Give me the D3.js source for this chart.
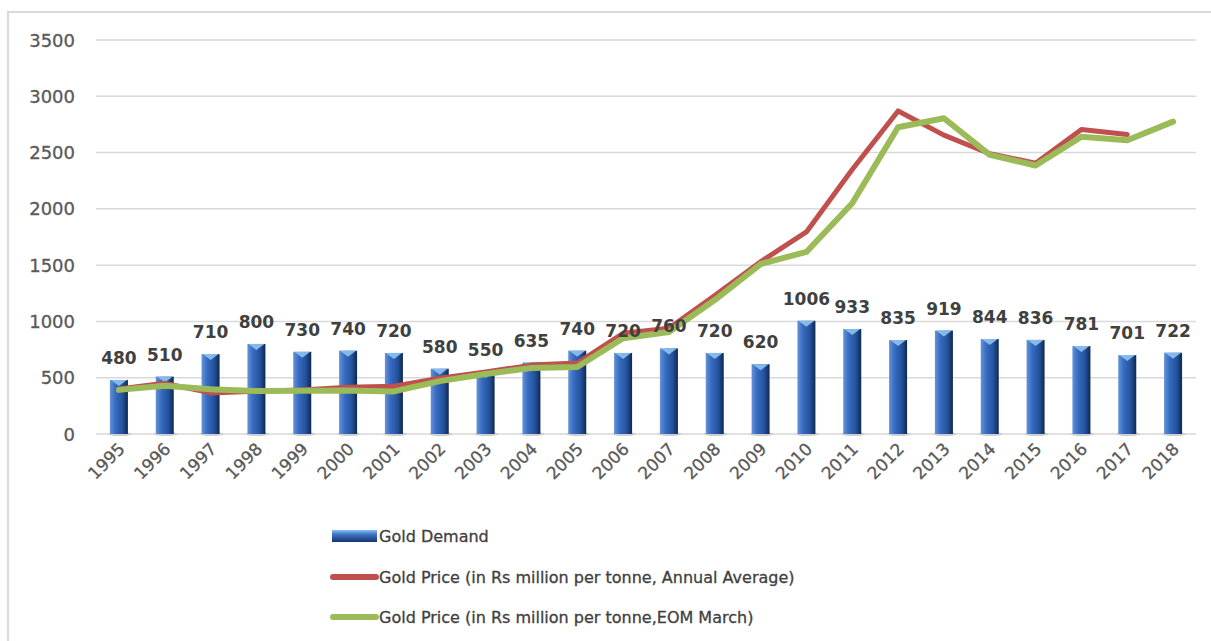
<!doctype html>
<html>
<head>
<meta charset="utf-8">
<title>Gold Demand and Gold Price</title>
<script src="https://cdn.jsdelivr.net/npm/d3@7"></script>
<style>
  body { margin: 0; background: #fff; }
  svg { display: block; font-family: "DejaVu Sans", sans-serif; }
</style>
</head>
<body>
<svg id="chart" width="1211" height="641"></svg>
<script>
// data
const years = ["1995","1996","1997","1998","1999","2000","2001","2002","2003","2004","2005","2006",
               "2007","2008","2009","2010","2011","2012","2013","2014","2015","2016","2017","2018"];
const demand = [480,510,710,800,730,740,720,580,550,635,740,720,760,720,620,1006,933,835,919,844,836,781,701,722];
const priceAvg = [400,450,365,380,390,415,425,495,550,612,630,895,940,1230,1530,1795,2350,2870,2655,2490,2405,2705,2660,null];
const priceMarch = [392,428,398,382,384,386,378,470,533,586,595,850,906,1190,1510,1617,2050,2725,2805,2480,2385,2640,2610,2775];
const yTicks = [0,500,1000,1500,2000,2500,3000,3500];
const legendLabels = ["Gold Demand",
                      "Gold Price (in Rs million per tonne, Annual Average)",
                      "Gold Price (in Rs million per tonne,EOM March)"];

const svg = d3.select("#chart");

// outer frame (only top and left edges are inside the picture)
svg.append("path")
    .attr("d", "M8,641 V12 H1211")
    .attr("fill", "none")
    .attr("stroke", "#d9d9d9")
    .attr("stroke-width", 2);

let x = d3.scaleBand().domain(years).range([96, 1196]);
let y = d3.scaleLinear().domain([0, 3500]).range([434, 40]);

// bar gradient
let defs = svg.append("defs");
let grad = defs.append("linearGradient").attr("id", "barGrad")
    .attr("x1", "0").attr("x2", "1").attr("y1", "0").attr("y2", "0");
grad.append("stop").attr("offset", "0").attr("stop-color", "#6593d6");
grad.append("stop").attr("offset", "0.3").attr("stop-color", "#376cc2");
grad.append("stop").attr("offset", "0.7").attr("stop-color", "#24529c");
grad.append("stop").attr("offset", "1").attr("stop-color", "#0f2850");

let legGrad = defs.append("linearGradient").attr("id", "legGrad")
    .attr("x1", "0").attr("x2", "0").attr("y1", "0").attr("y2", "1");
legGrad.append("stop").attr("offset", "0").attr("stop-color", "#8cc2f2");
legGrad.append("stop").attr("offset", "0.35").attr("stop-color", "#3f75c9");
legGrad.append("stop").attr("offset", "1").attr("stop-color", "#15356a");

// gridlines
svg.append("g")
    .selectAll("line")
    .data(yTicks)
    .enter()
    .append("line")
    .attr("x1", 96).attr("x2", 1196)
    .attr("y1", d => y(d)).attr("y2", d => y(d))
    .attr("stroke", "#d9d9d9")
    .attr("stroke-width", 1.5);

// y labels
svg.append("g")
    .selectAll("text")
    .data(yTicks)
    .enter()
    .append("text")
    .attr("x", 75)
    .attr("y", d => y(d) + 6.5)
    .attr("text-anchor", "end")
    .attr("font-size", 18)
    .attr("fill", "#595959")
    .attr("stroke", "#595959")
    .attr("stroke-width", 0.3)
    .text(d => d);

// x labels, rotated
svg.append("g")
    .selectAll("text")
    .data(years)
    .enter()
    .append("text")
    .attr("transform", d => "translate(" + (x(d) + x.bandwidth() / 2 + 7) + ",450) rotate(-45)")
    .attr("text-anchor", "end")
    .attr("font-size", 17)
    .attr("fill", "#595959")
    .attr("stroke", "#595959")
    .attr("stroke-width", 0.3)
    .text(d => d);

// bars
let barW = 18;
let bars = svg.append("g")
    .selectAll("g")
    .data(years)
    .enter()
    .append("g");

bars.append("ellipse")
    .attr("cx", d => x(d) + x.bandwidth() / 2 + 1)
    .attr("cy", y(0))
    .attr("rx", 12).attr("ry", 2)
    .attr("fill", "#cfcfcf");

bars.append("rect")
    .attr("x", d => x(d) + x.bandwidth() / 2 - barW / 2)
    .attr("y", (d, i) => y(demand[i]))
    .attr("width", barW)
    .attr("height", (d, i) => y(0) - y(demand[i]))
    .attr("fill", "url(#barGrad)");

bars.append("path")
    .attr("d", (d, i) => {
        let cx = x(d) + x.bandwidth() / 2, t = y(demand[i]);
        return "M" + (cx - barW / 2 + 1) + "," + t + " L" + (cx + barW / 2 - 1) + "," + t +
               " L" + cx + "," + (t + 6) + " Z";
    })
    .attr("fill", "#8fc3f1")
    .attr("opacity", 0.9);

// lines
let line = d3.line()
    .defined(d => d[1] != null)
    .x(d => x(d[0]) + x.bandwidth() / 2)
    .y(d => y(d[1]));

svg.append("path")
    .datum(years.map((yr, i) => [yr, priceAvg[i]]))
    .attr("d", line)
    .attr("fill", "none")
    .attr("stroke", "#c0504d")
    .attr("stroke-width", 5)
    .attr("stroke-linejoin", "round")
    .attr("stroke-linecap", "round");

svg.append("path")
    .datum(years.map((yr, i) => [yr, priceMarch[i]]))
    .attr("d", line)
    .attr("fill", "none")
    .attr("stroke", "#9bbb59")
    .attr("stroke-width", 6)
    .attr("stroke-linejoin", "round")
    .attr("stroke-linecap", "round");

// data labels
svg.append("g")
    .selectAll("text")
    .data(years)
    .enter()
    .append("text")
    .attr("x", d => x(d) + x.bandwidth() / 2)
    .attr("y", (d, i) => y(demand[i]) - 16)
    .attr("text-anchor", "middle")
    .attr("font-size", 17)
    .attr("font-weight", "bold")
    .attr("fill", "#404040")
    .text((d, i) => demand[i]);

// legend
let leg = svg.append("g");
let rowY = [536, 577, 617];

leg.append("rect")
    .attr("x", 332).attr("y", rowY[0] - 6)
    .attr("width", 45).attr("height", 12)
    .attr("fill", "url(#legGrad)");

leg.append("line")
    .attr("x1", 333).attr("x2", 376)
    .attr("y1", rowY[1]).attr("y2", rowY[1])
    .attr("stroke", "#c0504d").attr("stroke-width", 6)
    .attr("stroke-linecap", "round");

leg.append("line")
    .attr("x1", 333).attr("x2", 376)
    .attr("y1", rowY[2]).attr("y2", rowY[2])
    .attr("stroke", "#9bbb59").attr("stroke-width", 6)
    .attr("stroke-linecap", "round");

leg.selectAll("text")
    .data(legendLabels)
    .enter()
    .append("text")
    .attr("x", 379)
    .attr("y", (d, i) => rowY[i] + 6)
    .attr("font-size", 16)
    .attr("fill", "#404040")
    .attr("stroke", "#404040")
    .attr("stroke-width", 0.3)
    .text(d => d);
</script>
</body>
</html>
